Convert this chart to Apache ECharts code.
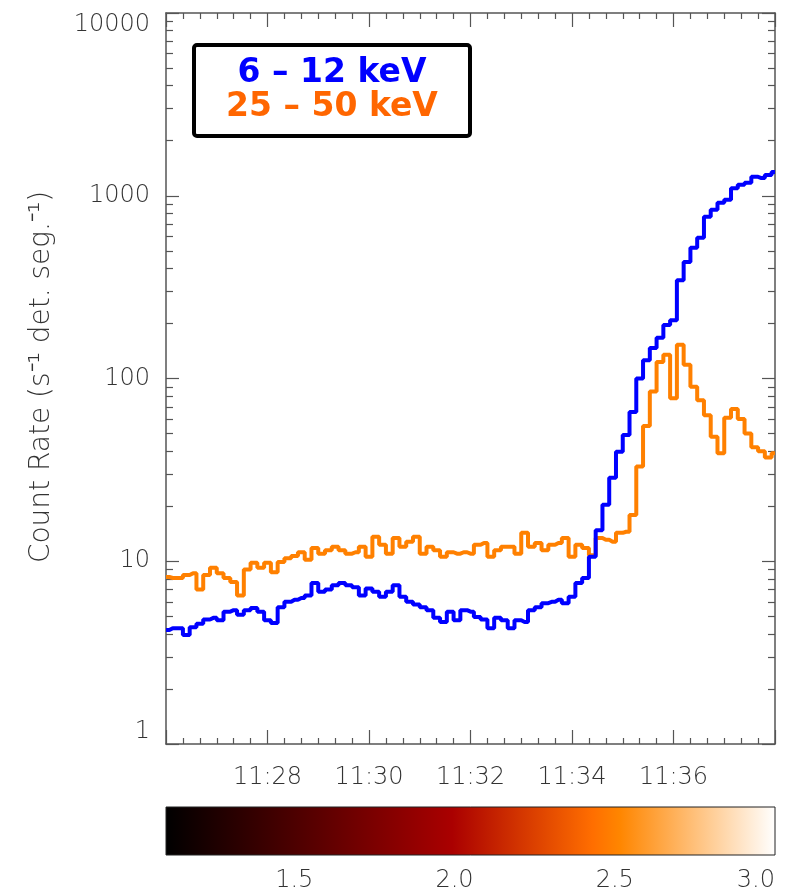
<!DOCTYPE html>
<html><head><meta charset="utf-8">
<script src="https://cdn.jsdelivr.net/npm/echarts@6/dist/echarts.min.js"></script>
<style>html,body{margin:0;padding:0;background:#fff}#c{width:797px;height:896px}</style>
</head><body><div id="c"></div>
<script>
// seconds after 11:26:00 (8-s bins)
const timeSec = [0,8,16,24,32,40,48,56,64,72,80,88,96,104,112,120,128,136,144,152,
160,168,176,184,192,200,208,216,224,232,240,248,256,264,272,280,288,296,304,312,
320,328,336,344,352,360,368,376,384,392,400,408,416,424,432,440,448,456,464,472,
480,488,496,504,512,520,528,536,544,552,560,568,576,584,592,600,608,616,624,632,
640,648,656,664,672,680,688,696,704,712,720];
// 6 - 12 keV count rate
const lowE = [4.2,4.3,4.3,3.95,4.35,4.55,4.8,4.9,4.75,5.3,
5.4,5.1,5.4,5.55,5.3,4.75,4.6,5.6,6.0,6.15,
6.3,6.5,7.6,6.8,7.0,7.4,7.6,7.4,7.2,6.5,
7.1,6.8,6.4,6.8,7.4,6.4,6.0,5.8,5.6,5.4,
4.9,4.65,5.3,4.75,5.4,5.3,4.95,4.8,4.3,4.9,
4.75,4.3,4.75,4.65,5.4,5.6,5.9,6.0,6.15,5.9,
6.4,7.6,8.1,10.6,14.8,20.4,28.6,39.7,49,65.6,
100,126,147,167,196,208,345,434,520,590,
767,838,915,950,1100,1147,1177,1270,1250,1300,
1350];
// 25 - 50 keV count rate
const highE = [8.2,8.1,8.1,8.4,8.6,7.0,8.4,9.2,8.6,8.1,
7.7,6.5,9.0,9.8,9.2,9.8,8.7,9.9,10.4,10.7,
11.2,10.2,11.8,11.0,11.5,12.0,11.5,11.0,11.2,12.0,
10.6,13.6,12.3,11.0,13.4,12.0,12.8,13.6,11.0,12.0,
11.5,10.6,11.2,11.0,11.2,11.0,12.3,12.6,10.6,11.5,
12.0,12.0,11.0,14.3,12.0,12.6,11.5,12.3,12.6,13.4,
10.6,12.3,11.8,10.8,13.4,13.1,12.8,14.3,14.5,17.9,
33,55,85,123,135,78,153,119,90,76,
63,48,39,61,68,60,50,42,40,37,
39];
const seriesNames = ['6 – 12 keV','25 – 50 keV'];
const seriesColors = ['#0000ff','#ff8000'];
const legendColors = ['#0000ff','#ff6600'];
const xRange = [0,720];
const yRange = [1,10000];
const cbRange = [1.1,3.0];
const cbTickValues = [1.5,2.0,2.5,3.0];
const cbStopOffsets = [0,0.47,0.70,0.745,1];
const cbStopColors = ['#000000','#aa0000','#ff6e00','#ff8600','#ffffff'];

const FONT = 'DejaVu Sans';
const LBL = {fontFamily:FONT, fontSize:24, fontWeight:200, color:'#333'};
const lineCol = '#555';
function fmtTime(s){const m=26+Math.round(s/60);return '11:'+(m<10?'0':'')+m;}

const chart = echarts.init(document.getElementById('c'));
const axLine = {show:true, onZero:false, lineStyle:{color:lineCol, width:1.5}};
const xBase = {type:'value', min:xRange[0], max:xRange[1], interval:120, gridIndex:0,
  axisLine:axLine, splitLine:{show:false},
  axisTick:{show:true, inside:true, length:14, lineStyle:{color:lineCol,width:1.2}},
  minorTick:{show:true, splitNumber:6, length:6, lineStyle:{color:lineCol,width:1.2}}};
const yBase = {type:'log', logBase:10, min:yRange[0], max:yRange[1], gridIndex:0,
  axisLine:axLine, splitLine:{show:false},
  axisTick:{show:true, inside:true, length:13, lineStyle:{color:lineCol,width:1.2}},
  minorTick:{show:true, splitNumber:9, length:7, lineStyle:{color:lineCol,width:1.2}}};

chart.setOption({
  animation:false,
  backgroundColor:'#fff',
  grid:[{left:166, right:22, top:13, bottom:152},
        {left:166, right:22, top:807, height:48}],
  xAxis:[
    Object.assign({}, xBase, {position:'bottom',
      axisLabel:Object.assign({}, LBL, {margin:22, showMinLabel:false, showMaxLabel:false, formatter:fmtTime})}),
    Object.assign({}, xBase, {position:'top', axisLabel:{show:false}}),
    {type:'value', gridIndex:1, min:cbRange[0], max:cbRange[1], position:'bottom',
      axisLine:{show:false}, axisTick:{show:false}, splitLine:{show:false},
      axisLabel:Object.assign({}, LBL, {margin:14, customValues:cbTickValues,
        formatter:v=>v.toFixed(1), alignMaxLabel:'right'})}
  ],
  yAxis:[
    Object.assign({}, yBase, {position:'left', axisLabel:Object.assign({}, LBL, {margin:16,
      formatter:v=>String(Math.round(v)), verticalAlignMaxLabel:'top', verticalAlignMinLabel:'bottom'})}),
    Object.assign({}, yBase, {position:'right', axisLabel:{show:false}}),
    {type:'value', gridIndex:1, min:0, max:1, show:false}
  ],
  series:[
    {name:seriesNames[1], type:'line', xAxisIndex:0, yAxisIndex:0, step:'middle', showSymbol:false, symbol:'none',
      lineStyle:{color:seriesColors[1], width:4}, data:timeSec.map((t,i)=>[t,highE[i]]), z:3},
    {name:seriesNames[0], type:'line', xAxisIndex:0, yAxisIndex:0, step:'middle', showSymbol:false, symbol:'none',
      lineStyle:{color:seriesColors[0], width:4}, data:timeSec.map((t,i)=>[t,lowE[i]]), z:4},
    {type:'custom', xAxisIndex:2, yAxisIndex:2, data:[[cbRange[0],cbRange[1]]],
      renderItem:function(params, api){
        const p0 = api.coord([api.value(0),0]);
        const p1 = api.coord([api.value(1),1]);
        return {type:'rect', shape:{x:p0[0], y:p1[1], width:p1[0]-p0[0], height:p0[1]-p1[1]},
          style:{fill:new echarts.graphic.LinearGradient(0,0,1,0,
            cbStopOffsets.map((o,i)=>({offset:o,color:cbStopColors[i]}))),
            stroke:'#222', lineWidth:1}};
      }}
  ],
  graphic:[
    {type:'text', x:42, y:377, rotation:Math.PI/2,
      style:{text:'Count Rate (s⁻¹ det. seg.⁻¹)', fontFamily:FONT, fontSize:28, fontWeight:200, fill:'#333',
        align:'center', verticalAlign:'middle'}},
    {type:'rect', shape:{x:194, y:45, width:276, height:91, r:3},
      style:{fill:'#fff', stroke:'#000', lineWidth:4}, z:10},
    {type:'text', x:332, y:73, z:11, style:{text:seriesNames[0], fontFamily:FONT, fontWeight:'bold', fontSize:33,
      fill:legendColors[0], align:'center', verticalAlign:'middle'}},
    {type:'text', x:332, y:107, z:11, style:{text:seriesNames[1], fontFamily:FONT, fontWeight:'bold', fontSize:33,
      fill:legendColors[1], align:'center', verticalAlign:'middle'}}
  ]
});
</script></body></html>
